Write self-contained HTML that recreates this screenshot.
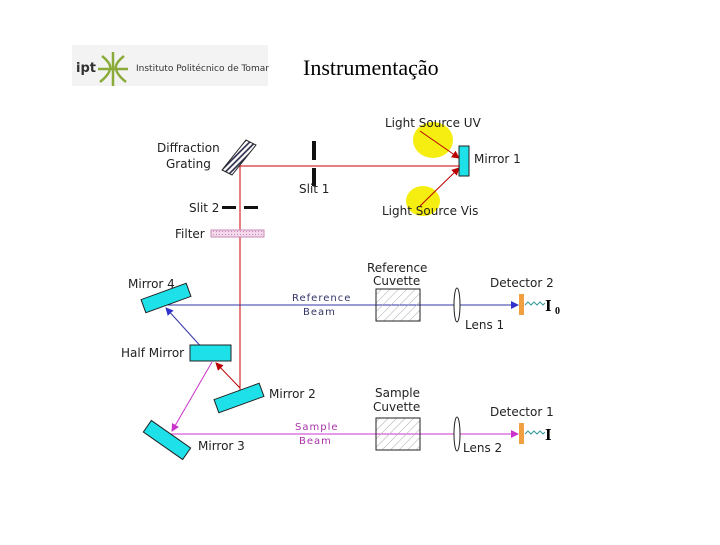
<!DOCTYPE html>
<html><head><meta charset="utf-8"><style>
body{margin:0;background:#fff}
svg text{font-family:"DejaVu Sans","Liberation Sans",sans-serif;font-size:12px;fill:#222}
</style></head><body>
<svg width="720" height="540" viewBox="0 0 720 540" xmlns="http://www.w3.org/2000/svg">
<defs>
<pattern id="h" width="4" height="4" patternUnits="userSpaceOnUse" patternTransform="rotate(45)"><rect width="4" height="4" fill="#fff"/><line x1="1" y1="0" x2="1" y2="4" stroke="#224" stroke-width="1.6"/></pattern>
<pattern id="c" width="6" height="6" patternUnits="userSpaceOnUse" patternTransform="rotate(45)"><line x1="0" y1="0" x2="0" y2="6" stroke="#aaa" stroke-width="1"/></pattern>
<pattern id="f" width="3" height="3" patternUnits="userSpaceOnUse"><rect width="3" height="3" fill="#f4d8ec"/><rect width="1" height="1" fill="#c98ab5"/></pattern>
<marker id="ar" markerWidth="8" markerHeight="8" refX="7" refY="4" orient="auto" markerUnits="userSpaceOnUse"><path d="M0,0L8,4L0,8z" fill="#b00"/></marker>
<marker id="ab" markerWidth="8" markerHeight="8" refX="7" refY="4" orient="auto" markerUnits="userSpaceOnUse"><path d="M0,0L8,4L0,8z" fill="#33c"/></marker>
<marker id="am" markerWidth="8" markerHeight="8" refX="7" refY="4" orient="auto" markerUnits="userSpaceOnUse"><path d="M0,0L8,4L0,8z" fill="#c3c"/></marker>
</defs>
<rect x="72" y="45" width="196" height="41" fill="#f3f3f3"/>
<text x="76" y="72" style="font-size:13px;font-weight:bold;fill:#333">ipt</text>
<g stroke="#8aab3a" stroke-width="2.5" fill="none"><path d="M102,56 Q112,64 110,70 M124,56 Q114,64 116,70 M100,82 Q110,74 110,68 M126,82 Q116,74 116,68 M98,69 H128 M113,52 V86"/></g>
<text x="136" y="71" style="font-size:9px;fill:#333">Instituto Politécnico de Tomar</text>
<text x="303" y="75" style="font-family:'Liberation Serif',serif;font-size:22px;fill:#000">Instrumentação</text>

<ellipse cx="433" cy="140" rx="20" ry="18" fill="#f5ee10"/>
<ellipse cx="423" cy="201" rx="17" ry="15" fill="#f5ee10"/>
<text x="385" y="127">Light Source UV</text>
<text x="382" y="215">Light Source Vis</text>
<line x1="420" y1="131" x2="459" y2="158" stroke="#b00" marker-end="url(#ar)"/>
<line x1="420" y1="206" x2="459" y2="168" stroke="#b00" marker-end="url(#ar)"/>
<rect x="459" y="146" width="10" height="30" fill="#1ee0e8" stroke="#222"/>
<text x="474" y="163">Mirror 1</text>

<line x1="240" y1="166" x2="460" y2="166" stroke="#c00"/>
<line x1="240" y1="166" x2="240" y2="390" stroke="#c00"/>
<polygon points="222,170 246,140 256,145 232,175" fill="url(#h)" stroke="#222"/>
<text x="157" y="152">Diffraction</text>
<text x="166" y="168">Grating</text>
<rect x="312" y="141" width="4" height="19" fill="#111"/>
<rect x="312" y="168" width="4" height="18" fill="#111"/>
<text x="299" y="193">Slit 1</text>
<rect x="222" y="206" width="14" height="3" fill="#111"/>
<rect x="244" y="206" width="14" height="3" fill="#111"/>
<text x="189" y="212">Slit 2</text>
<rect x="211" y="230" width="53" height="7" fill="url(#f)" stroke="#c98ab5"/>
<text x="175" y="238">Filter</text>

<line x1="166" y1="305" x2="518" y2="305" stroke="#33a" marker-end="url(#ab)"/>
<line x1="214" y1="361" x2="166" y2="308" stroke="#33a" marker-end="url(#ab)"/>
<line x1="240" y1="388" x2="216" y2="363" stroke="#b00" marker-end="url(#ar)"/>
<line x1="212" y1="362" x2="172" y2="431" stroke="#c3c" marker-end="url(#am)"/>
<line x1="171" y1="434" x2="518" y2="434" stroke="#c3c" marker-end="url(#am)"/>

<rect x="-24" y="-7" width="48" height="14" fill="#1ee0e8" stroke="#222" transform="translate(166,298) rotate(-20)"/>
<text x="128" y="288">Mirror 4</text>
<rect x="190" y="345" width="41" height="16" fill="#1ee0e8" stroke="#222"/>
<text x="121" y="357">Half Mirror</text>
<rect x="-24" y="-7" width="48" height="14" fill="#1ee0e8" stroke="#222" transform="translate(239,398) rotate(-20)"/>
<text x="269" y="398">Mirror 2</text>
<rect x="-24" y="-7" width="48" height="14" fill="#1ee0e8" stroke="#222" transform="translate(167,440) rotate(35)"/>
<text x="198" y="450">Mirror 3</text>

<text x="292" y="301" style="font-size:10px;fill:#336;letter-spacing:1px">Reference</text>
<text x="303" y="315" style="font-size:10px;fill:#336;letter-spacing:1px">Beam</text>
<text x="295" y="430" style="font-size:10px;fill:#a3a;letter-spacing:1px">Sample</text>
<text x="299" y="444" style="font-size:10px;fill:#a3a;letter-spacing:1px">Beam</text>

<rect x="376" y="289" width="44" height="32" fill="url(#c)" stroke="#222"/>
<text x="367" y="272">Reference</text>
<text x="373" y="285">Cuvette</text>
<rect x="376" y="418" width="44" height="32" fill="url(#c)" stroke="#222"/>
<text x="375" y="397">Sample</text>
<text x="373" y="411">Cuvette</text>

<ellipse cx="457" cy="305" rx="3" ry="17" fill="#fff" stroke="#222"/>
<ellipse cx="457" cy="434" rx="3" ry="17" fill="#fff" stroke="#222"/>
<text x="465" y="329">Lens 1</text>
<text x="463" y="452">Lens 2</text>

<rect x="519" y="294" width="5" height="21" fill="#f0a040"/>
<rect x="519" y="423" width="5" height="21" fill="#f0a040"/>
<polyline points="525,305 528,302 531,305 534,302 537,305 540,302 543,305 545,303" fill="none" stroke="#399"/>
<polyline points="525,434 528,431 531,434 534,431 537,434 540,431 543,434 545,432" fill="none" stroke="#399"/>
<text x="490" y="287">Detector 2</text>
<text x="490" y="416">Detector 1</text>
<text x="545" y="311" style="font-family:'Liberation Serif',serif;font-size:17px;font-weight:bold;fill:#000">I</text>
<text x="555" y="314" style="font-family:'Liberation Serif',serif;font-size:10px;font-weight:bold;fill:#000">0</text>
<text x="545" y="440" style="font-family:'Liberation Serif',serif;font-size:17px;font-weight:bold;fill:#000">I</text>
</svg>
</body></html>
